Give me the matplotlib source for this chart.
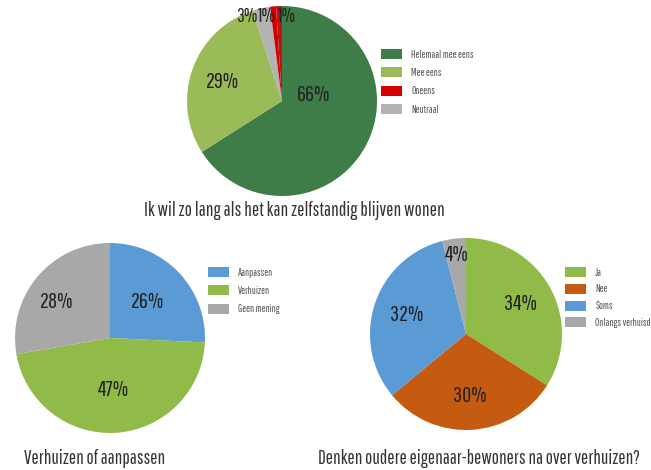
import matplotlib.pyplot as plt

W, H = 651, 470

# survey results
q1_labels = ["Helemaal mee eens", "Mee eens", "Oneens", "Neutraal"]
q1_values = [66, 29, 3, 1, 1]   # clockwise: helemaal mee eens, mee eens, neutraal, oneens, helemaal oneens
q1_colors = ["#3e7d47", "#9bbb59", "#b3b3b3", "#d40000", "#b81515"]

q2_labels = ["Aanpassen", "Verhuizen", "Geen mening"]
q2_values = [26, 47, 28]
q2_colors = ["#5b9bd5", "#91bb48", "#a8a8a8"]

q3_labels = ["Ja", "Nee", "Soms", "Onlangs verhuisd"]
q3_values = [34, 30, 32, 4]
q3_colors = ["#91bb48", "#c55a11", "#5b9bd5", "#a8a8a8"]

plt.rcParams['font.family'] = ['Pathway Gothic One', 'DejaVu Sans']

fig = plt.figure(figsize=(W / 100, H / 100), dpi=100, facecolor="white")


def pie_axes(cx, cy, r):
    ax = fig.add_axes([(cx - r) / W, (H - cy - r) / H, 2 * r / W, 2 * r / H])
    ax.axis("off")
    return ax


def draw_pie(ax, values, colors, pctdist):
    total = sum(values)
    wedges, texts, autotexts = ax.pie(values, colors=colors, startangle=90, counterclock=False,
                                      autopct=lambda p: "%d%%" % round(p * total / 100),
                                      pctdistance=pctdist, radius=1,
                                      wedgeprops=dict(linewidth=0),
                                      textprops=dict(fontsize=16, color="#222222"))
    ax.set_xlim(-1, 1)
    ax.set_ylim(-1, 1)
    return wedges, autotexts


def add_legend(handles, labels, x, y, pitch):
    leg = fig.legend(handles, labels, loc="upper left", bbox_to_anchor=(x / W, 1 - y / H),
                     frameon=False, fontsize=7.5, handlelength=2.0, handleheight=1.1,
                     handletextpad=0.9, labelspacing=pitch, borderpad=0, borderaxespad=0)
    for t in leg.get_texts():
        t.set_color("#555555")
    return leg


# Ik wil zo lang als het kan zelfstandig blijven wonen
ax1 = pie_axes(282, 101, 95)
w1, at1 = draw_pie(ax1, q1_values, q1_colors, 0.6)
at1[0].set_position((0.33, 0.06))
at1[1].set_position((-0.63, 0.2))
for t, x in zip(at1[2:], [-0.37, -0.16, 0.05]):
    t.set_position((x, 0.89))
    t.set_fontsize(14)
add_legend([w1[0], w1[1], w1[3], w1[2]], q1_labels, 381, 49, 0.75)
fig.text(294 / W, 1 - 211 / H, "Ik wil zo lang als het kan zelfstandig blijven wonen",
         ha="center", va="center", fontsize=13.9, color="#333333")

# Verhuizen of aanpassen
ax2 = pie_axes(110, 338, 95)
w2, at2 = draw_pie(ax2, q2_values, q2_colors, 0.55)
at2[2].set_position((-0.56, 0.38))
add_legend(w2, q2_labels, 208, 267, 0.75)
fig.text(95 / W, 1 - 459 / H, "Verhuizen of aanpassen",
         ha="center", va="center", fontsize=13.8, color="#333333")

# Denken oudere eigenaar-bewoners na over verhuizen?
ax3 = pie_axes(466, 334, 96)
w3, at3 = draw_pie(ax3, q3_values, q3_colors, 0.65)
at3[3].set_position((-0.1, 0.82))
add_legend(w3, q3_labels, 565, 267, 0.6)
fig.text(479 / W, 1 - 459 / H, "Denken oudere eigenaar-bewoners na over verhuizen?",
         ha="center", va="center", fontsize=13.8, color="#333333")

fig.savefig("out.png", dpi=100, facecolor="white")
